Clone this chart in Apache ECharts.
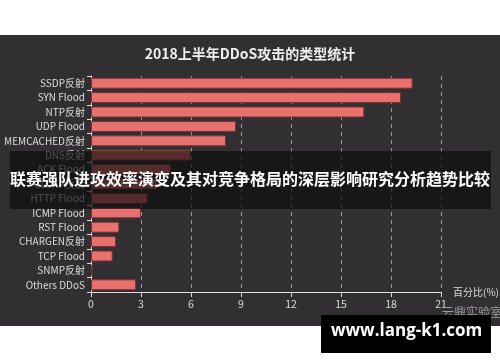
<!DOCTYPE html>
<html><head><meta charset="utf-8">
<script src="https://cdn.jsdelivr.net/npm/echarts@6/dist/echarts.min.js"></script>
<style>
html,body{margin:0;padding:0;background:#fff;}
#c{width:500px;height:362px;}
</style></head>
<body><div id="c"></div>
<script>
const categories = ['SSDP反射','SYN Flood','NTP反射','UDP Flood','MEMCACHED反射','DNS反射','ACK Flood','CLDAP反射','HTTP Flood','ICMP Flood','RST Flood','CHARGEN反射','TCP Flood','SNMP反射','Others DDoS'];
const values = [19.3, 18.6, 16.4, 8.7, 8.1, 6.0, 4.8, 4.0, 3.4, 3.0, 1.7, 1.5, 1.3, 0.1, 2.7];
const xTicks = [0, 3, 6, 9, 12, 15, 18, 21];
const titleText = '2018上半年DDoS攻击的类型统计';
const overlayText = '联赛强队进攻效率演变及其对竞争格局的深层影响研究分析趋势比较';
const watermark = 'www.lang-k1.com';
const sourceText = '云鼎实验室';

const chart = echarts.init(document.getElementById('c'));
const font = '"Noto Sans CJK SC","Noto Sans",sans-serif';
chart.setOption({
  backgroundColor: '#ffffff',
  animation: false,
  title: {
    text: titleText, left: 'center', top: 42,
    textStyle: {color: '#eeeeee', fontSize: 14, fontWeight: 'bold', fontFamily: font}
  },
  grid: {left: 91, right: 59, top: 76, bottom: 70, containLabel: false, outerBoundsMode: 'none'},
  xAxis: {
    type: 'value', min: xTicks[0], max: xTicks[xTicks.length-1], interval: 3,
    name: '百分比(%)', nameLocation: 'end', nameGap: 12,
    nameTextStyle: {color: '#dddddd', fontSize: 10, fontFamily: font, verticalAlign: 'middle', padding: [4,0,0,0]},
    axisLine: {show: true, lineStyle: {color: '#dddddd', width: 1}},
    axisTick: {show: true, length: 5, lineStyle: {color: '#dddddd'}},
    axisLabel: {color: '#dddddd', fontSize: 10.5, margin: 7, fontFamily: font},
    splitLine: {show: true, lineStyle: {color: '#9a9a9a', type: [4,4], width: 1}}
  },
  yAxis: {
    type: 'category', data: categories, inverse: true,
    axisLine: {show: true, lineStyle: {color: '#dddddd'}},
    axisTick: {show: true, length: 4, lineStyle: {color: '#dddddd'}},
    axisLabel: {color: '#dddddd', fontSize: 10, margin: 6, fontFamily: font}
  },
  series: [{
    type: 'bar', data: values, barWidth: '76%',
    itemStyle: {color: '#e8706f', borderColor: '#7a3333', borderWidth: 1}
  }],
  graphic: [
    {type: 'rect', z: -100, silent: true, shape: {x: 0, y: 35, width: 500, height: 291}, style: {fill: '#312f32'}},
    {type: 'text', z: 50, left: 442, top: 306, style: {text: sourceText, fill: '#9a9a9a', font: '12px ' + font}},
    {type: 'rect', z: 100, silent: true, shape: {x: 10, y: 151, width: 481, height: 58}, style: {fill: 'rgba(12,12,12,0.68)'}},
    {type: 'text', z: 101, left: 'center', top: 171, style: {text: overlayText, fill: '#ffffff', font: 'bold 16px ' + font}},
    {type: 'rect', z: 100, silent: true, shape: {x: 321, y: 315, width: 170, height: 38}, style: {fill: '#000000'}},
    {type: 'text', z: 101, left: 331, top: 323, style: {text: watermark, fill: '#ffffff', font: 'bold 17px "Open Sans", sans-serif'}}
  ]
});
</script></body></html>
